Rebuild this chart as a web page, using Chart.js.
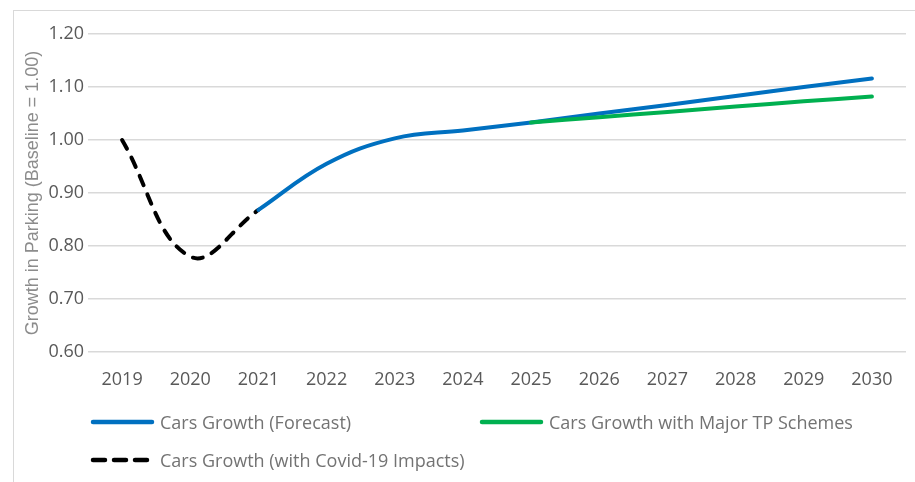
<!DOCTYPE html>
<html>
<head>
<meta charset="utf-8">
<script src="https://cdn.jsdelivr.net/npm/chart.js@4"></script>
<style>
  html, body { margin: 0; padding: 0; background: #fff; }
  #wrap { position: relative; width: 915px; height: 482px; overflow: hidden; }
  #frame { position: absolute; left: 13px; top: 10px; width: 1000px; height: 1000px; border: 1px solid #d9d9d9; }
  #chart { position: absolute; left: 0; top: 0; }
  .legend-item { position: absolute; display: flex; align-items: center; height: 24px; font-family: "Open Sans", sans-serif; font-size: 18px; color: #737373; white-space: nowrap; }
  .legend-item svg { margin-right: 4px; }
</style>
</head>
<body>
<div id="wrap">
  <div id="frame"></div>
  <canvas id="chart" width="915" height="482"></canvas>
  <div id="legend"></div>
</div>
<script>
const years = ['2019', '2020', '2021', '2022', '2023', '2024', '2025', '2026', '2027', '2028', '2029', '2030'];
const forecast = [null, null, 0.868, 0.955, 1.003, 1.018, 1.033, 1.050, 1.066, 1.083, 1.100, 1.116];
const tpSchemes = [null, null, null, null, null, null, 1.033, 1.043, 1.053, 1.063, 1.073, 1.082];
const covid = [1.000, 0.780, 0.868, null, null, null, null, null, null, null, null, null];
const yTicks = [0.6, 0.7, 0.8, 0.9, 1.0, 1.1, 1.2];

const series = [
  { label: 'Cars Growth with Major TP Schemes', data: tpSchemes, color: '#00b050', dash: [] },
  { label: 'Cars Growth (Forecast)', data: forecast, color: '#0070c0', dash: [] },
  { label: 'Cars Growth (with Covid-19 Impacts)', data: covid, color: '#000000', dash: [10, 10] }
];

const ctx = document.getElementById('chart').getContext('2d');
const chart = new Chart(ctx, {
  type: 'line',
  data: {
    labels: years,
    datasets: series.map(s => ({
      label: s.label,
      data: s.data,
      borderColor: s.color,
      backgroundColor: s.color,
      borderWidth: 4,
      borderDash: s.dash,
      borderCapStyle: 'round',
      pointRadius: 0,
      tension: 0.4,
      fill: false,
      spanGaps: false
    }))
  },
  options: {
    responsive: false,
    animation: false,
    layout: { padding: { left: 0, right: 9, top: 34, bottom: 90 } },
    plugins: { legend: { display: false }, tooltip: { enabled: false } },
    scales: {
      x: {
        offset: true,
        grid: { display: false, drawTicks: false },
        border: { display: false },
        ticks: { color: '#595959', padding: 17, font: { family: 'Open Sans', size: 18 } },
        afterFit: s => { s.height = 40; }
      },
      y: {
        min: 0.6,
        max: 1.2,
        afterBuildTicks: s => { s.ticks = yTicks.map(v => ({ value: v })); },
        grid: { color: '#d9d9d9', lineWidth: 1.5, drawTicks: false },
        border: { display: false },
        ticks: {
          color: '#595959',
          padding: 4,
          font: { family: 'Open Sans', size: 18 },
          callback: v => v.toFixed(2)
        },
        title: {
          display: true,
          text: 'Growth in Parking (Baseline = 1.00)',
          color: '#8c8c8c',
          font: { family: 'Liberation Sans', size: 18 },
          padding: { top: 22, bottom: 0 }
        },
        afterFit: s => { s.width = 88; }
      }
    }
  }
});

// legend in two columns, like the original
const legendPos = {
  'Cars Growth (Forecast)': [90, 410],
  'Cars Growth with Major TP Schemes': [479, 410],
  'Cars Growth (with Covid-19 Impacts)': [90, 448]
};
const legend = document.getElementById('legend');
series.forEach(s => {
  const pos = legendPos[s.label];
  const item = document.createElement('div');
  item.className = 'legend-item';
  item.style.left = pos[0] + 'px';
  item.style.top = pos[1] + 'px';
  const dash = s.dash.length ? 'stroke-dasharray="12 9"' : '';
  item.innerHTML = '<svg width="66" height="8"><line x1="3" y1="4" x2="62" y2="4" stroke="' + s.color +
    '" stroke-width="4.5" stroke-linecap="round" ' + dash + '/></svg><span>' + s.label + '</span>';
  legend.appendChild(item);
});
</script>
</body>
</html>
